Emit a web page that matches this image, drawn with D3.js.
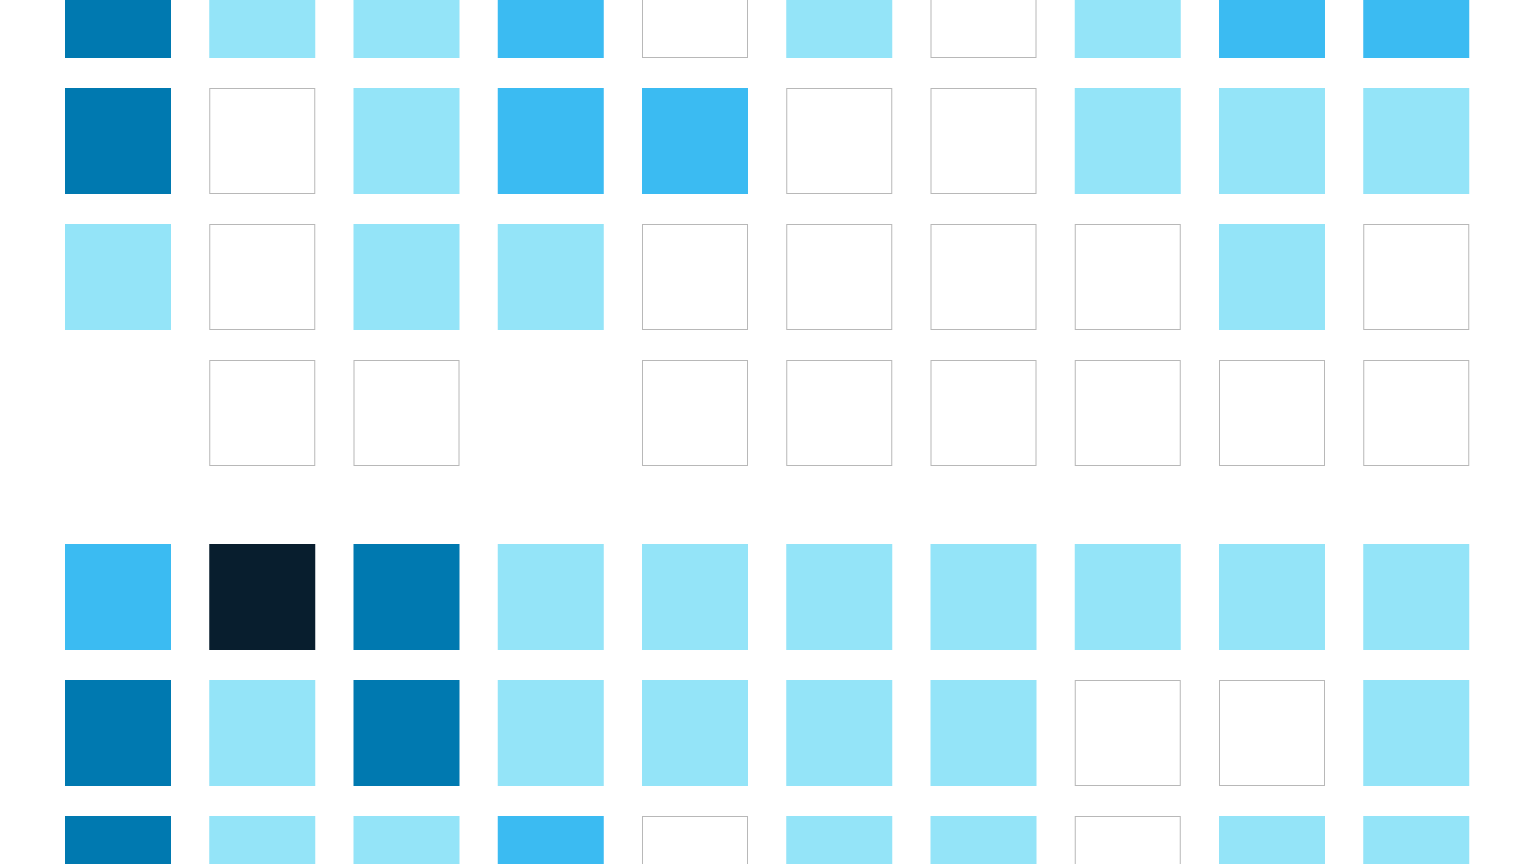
<!DOCTYPE html>
<html>
<head>
<meta charset="utf-8">
<script src="https://cdn.jsdelivr.net/npm/d3@7"></script>
<style>
  html, body { margin: 0; padding: 0; background: #ffffff; overflow: hidden; }
  svg { display: block; }
</style>
</head>
<body>
<svg id="chart" width="1536" height="864"></svg>
<script>
// Level per cell: 0 = empty, 1 = light, 2 = mid, 3 = dark, 4 = darkest, null = no cell
const columns = [0, 1, 2, 3, 4, 5, 6, 7, 8, 9];
const groupA = [
  [3, 1, 1, 2, 0, 1, 0, 1, 2, 2],
  [3, 0, 1, 2, 2, 0, 0, 1, 1, 1],
  [1, 0, 1, 1, 0, 0, 0, 0, 1, 0],
  [null, 0, 0, null, 0, 0, 0, 0, 0, 0]
];
const groupB = [
  [2, 4, 3, 1, 1, 1, 1, 1, 1, 1],
  [3, 1, 3, 1, 1, 1, 1, 0, 0, 1],
  [3, 1, 1, 2, 0, 1, 1, 0, 1, 1]
];
const levels = [0, 1, 2, 3, 4];
const levelColors = ["#ffffff", "#94e4f8", "#3bbbf2", "#0079b0", "#081e2e"];

(function () {
  const cells = [];
  [groupA, groupB].forEach((g, gi) => {
    g.forEach((row, ri) => {
      row.forEach((v, ci) => {
        if (v !== null) cells.push({ group: gi, row: ri, col: ci, value: v });
      });
    });
  });

  const cellSize = 106;
  const x = d3.scaleLinear().domain([0, 9]).range([65, 1363.25]);
  const rowStep = 136, groupGap = 48, yStart = -48;
  const rowsBefore = [0, groupA.length];
  const y = d => yStart + (rowsBefore[d.group] + d.row) * rowStep + d.group * groupGap;
  const color = d3.scaleOrdinal().domain(levels).range(levelColors);

  const svg = d3.select("#chart");
  svg.selectAll("rect.cell")
    .data(cells)
    .join("rect")
    .attr("class", "cell")
    .attr("x", d => d.value === 0 ? x(d.col) + 0.5 : x(d.col))
    .attr("y", d => d.value === 0 ? y(d) + 0.5 : y(d))
    .attr("width", d => d.value === 0 ? cellSize - 1 : cellSize)
    .attr("height", d => d.value === 0 ? cellSize - 1 : cellSize)
    .attr("fill", d => color(d.value))
    .attr("stroke", d => d.value === 0 ? "#b8b8b8" : "none")
    .attr("stroke-width", 1);
})();
</script>
</body>
</html>
